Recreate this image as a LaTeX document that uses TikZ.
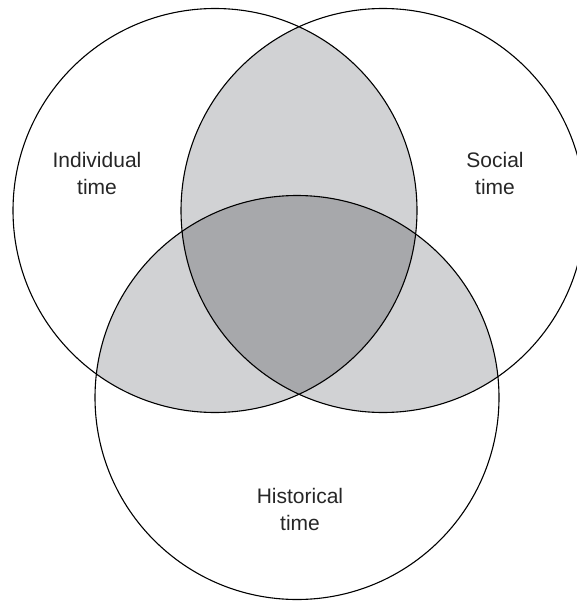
\documentclass[tikz,border=0pt]{standalone}
\usepackage{fontspec}
\setmainfont{Liberation Sans}

\definecolor{lensgray}{HTML}{d1d2d4}
\definecolor{coregray}{HTML}{a7a8ab}

\begin{document}
\begin{tikzpicture}[x=1pt, y=-1pt]
    \useasboundingbox (0, 0) rectangle (577, 602);
    \clip (0, 0) rectangle (577, 602);
    \begin{scope}[all/.style={draw, circle, inner sep=0pt, minimum size=404pt, line width=1.1pt},
        lbl/.style={align=center, font=\fontsize{21}{27}\selectfont, text=black!85}]

        \coordinate (ci) at (215, 210.5);
        \coordinate (cs) at (383, 210.5);
        \coordinate (ch) at (297, 397.5);

        % pairwise overlaps
        \begin{scope}
            \clip (ci) circle[radius=202pt];
            \fill[lensgray] (cs) circle[radius=202pt];
            \fill[lensgray] (ch) circle[radius=202pt];
        \end{scope}
        \begin{scope}
            \clip (cs) circle[radius=202pt];
            \fill[lensgray] (ch) circle[radius=202pt];
        \end{scope}
        %all three
        \begin{scope}
            \clip (ci) circle[radius=202pt];
            \clip (cs) circle[radius=202pt];
            \fill[coregray] (ch) circle[radius=202pt];
        \end{scope}

        \node[all] (ind) at (ci) {};
        \node[all] (soc) at (cs) {};
        \node[all] (his) at (ch) {};

        \node[lbl] (indl) at (97, 173.5) {Individual\\time};
        \node[lbl] (socl) at (495, 173.5) {Social\\time};
        \node[lbl] (hisl) at (300, 509.5) {Historical\\time};
    \end{scope}
\end{tikzpicture}
\end{document}
